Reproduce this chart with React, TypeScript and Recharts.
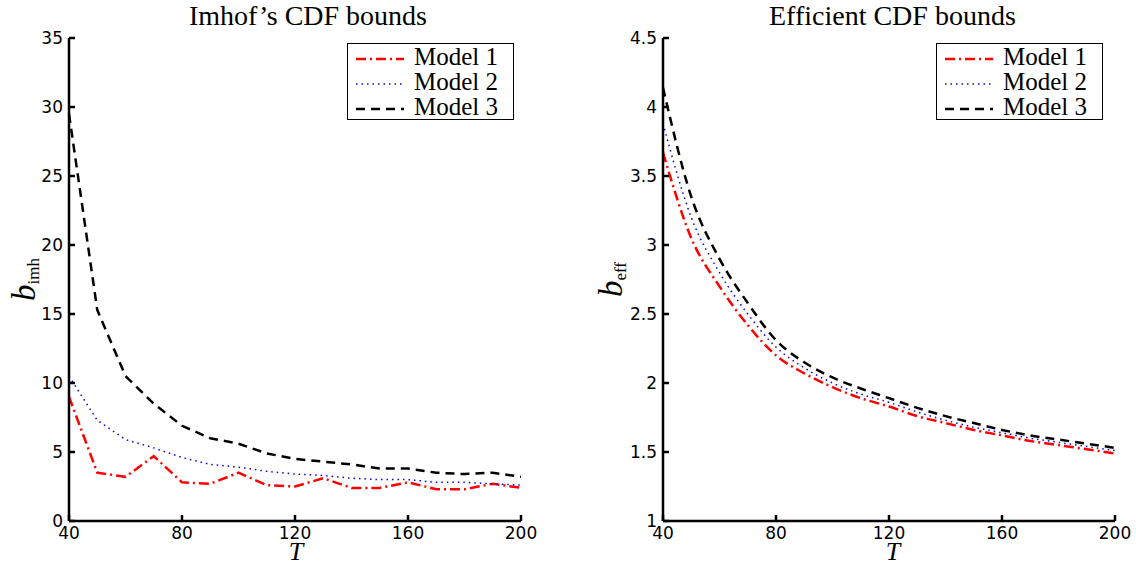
import { LineChart, Line, XAxis, YAxis, Legend } from 'recharts';

// sample sizes T
const tValues = [40, 50, 60, 70, 80, 90, 100, 110, 120, 130, 140, 150, 160, 170, 180, 190, 200];

// Imhof's CDF bounds
const imhModel1 = [9.0, 3.5, 3.2, 4.7, 2.8, 2.7, 3.5, 2.6, 2.5, 3.1, 2.4, 2.4, 2.8, 2.3, 2.3, 2.7, 2.4];
const imhModel2 = [10.5, 7.3, 5.9, 5.3, 4.6, 4.1, 3.9, 3.6, 3.4, 3.3, 3.1, 3.0, 3.0, 2.8, 2.8, 2.7, 2.6];
const imhModel3 = [29.5, 15.3, 10.5, 8.5, 6.9, 6.0, 5.6, 4.9, 4.5, 4.3, 4.1, 3.8, 3.8, 3.5, 3.4, 3.5, 3.2];

// Efficient CDF bounds
const effModel1 = [3.67, 3.05, 2.7, 2.42, 2.2, 2.07, 1.97, 1.89, 1.83, 1.76, 1.71, 1.66, 1.62, 1.58, 1.55, 1.52, 1.49];
const effModel2 = [3.88, 3.2, 2.8, 2.5, 2.26, 2.11, 2.0, 1.92, 1.86, 1.79, 1.73, 1.68, 1.64, 1.6, 1.57, 1.54, 1.51];
const effModel3 = [4.14, 3.35, 2.9, 2.58, 2.31, 2.15, 2.04, 1.96, 1.89, 1.82, 1.76, 1.71, 1.66, 1.62, 1.59, 1.56, 1.53];

const xTicks = [40, 80, 120, 160, 200];
const imhTicks = [0, 5, 10, 15, 20, 25, 30, 35];
const effTicks = [1, 1.5, 2, 2.5, 3, 3.5, 4, 4.5];

const seriesNames = ['Model 1', 'Model 2', 'Model 3'];

const imhData = tValues.map((T, i) => ({ T, m1: imhModel1[i], m2: imhModel2[i], m3: imhModel3[i] }));
const effData = tValues.map((T, i) => ({ T, m1: effModel1[i], m2: effModel2[i], m3: effModel3[i] }));

const styles = [
  { key: 'm1', color: '#ff0000', dash: '10 4 2 4', width: 2.5 },
  { key: 'm2', color: '#0000ff', dash: '1.5 4', width: 1.5 },
  { key: 'm3', color: '#000000', dash: '9 6', width: 2.5 },
];

const serif = '"Liberation Serif", "Times New Roman", serif';
const sans = '"DejaVu Sans", sans-serif';
const tickFont = { fontFamily: sans, fontSize: 17, fill: '#000' };

function LegendBox() {
  return (
    <div
      style={{
        width: 165,
        height: 75,
        border: '1px solid #000',
        background: '#fff',
        fontFamily: serif,
        fontSize: 25,
        lineHeight: '25px',
        paddingTop: 0,
      }}
    >
      {seriesNames.map((name, i) => (
        <div key={name} style={{ display: 'flex', alignItems: 'center', height: 25 }}>
          <svg width={66} height={20}>
            <line
              x1={8}
              x2={56}
              y1={12}
              y2={12}
              stroke={styles[i].color}
              strokeWidth={styles[i].width}
              strokeDasharray={styles[i].dash}
            />
          </svg>
          <span>{name}</span>
        </div>
      ))}
    </div>
  );
}

function YLabel({ viewBox, x, y, sub }: any) {
  const bx = (viewBox?.x ?? 0) + x;
  return (
    <text
      x={bx}
      y={y}
      transform={`rotate(-90, ${bx}, ${y})`}
      textAnchor="middle"
      fontFamily={serif}
      fill="#000"
    >
      <tspan fontStyle="italic" fontSize={33}>b</tspan>
      <tspan fontSize={17} dy={4}>{sub}</tspan>
    </text>
  );
}

function XLabel({ viewBox, shift }: any) {
  const cx = viewBox.x + viewBox.width / 2 + shift;
  return (
    <text x={cx} y={560} textAnchor="middle" fontFamily={serif} fontStyle="italic" fontSize={26} fill="#000">
      T
    </text>
  );
}

function Panel({ data, domain, ticks, yWidth, right, sub, subX, subY, tShift, smooth, legendLeft }: any) {
  return (
    <LineChart
      width={yWidth + 452 + right}
      height={567}
      data={data}
      margin={{ top: 38, right, bottom: 0, left: 0 }}
    >
      <XAxis
        dataKey="T"
        type="number"
        domain={[40, 200]}
        ticks={xTicks}
        height={46}
        stroke="#000"
        strokeWidth={2.5}
        tickSize={-6}
        tickMargin={12}
        tick={tickFont}
        interval={0}
        label={<XLabel shift={tShift} />}
      />
      <XAxis
        xAxisId="top"
        orientation="top"
        type="number"
        domain={[40, 200]}
        ticks={xTicks}
        allowDataOverflow
        height={0}
        stroke="#000"
        strokeWidth={2.5}
        tickSize={-6}
        tick={false}
      />
      <YAxis
        type="number"
        domain={domain}
        ticks={ticks}
        width={yWidth}
        stroke="#000"
        strokeWidth={2.5}
        tickSize={-6}
        tickMargin={12}
        tick={tickFont}
        interval={0}
        label={<YLabel x={subX} y={subY} sub={sub} />}
      />
      <YAxis
        yAxisId="right"
        orientation="right"
        type="number"
        domain={domain}
        ticks={ticks}
        allowDataOverflow
        width={0}
        stroke="#000"
        strokeWidth={2.5}
        tickSize={-6}
        tick={false}
      />
      {styles.map((s, i) => (
        <Line
          key={s.key}
          dataKey={s.key}
          name={seriesNames[i]}
          type={smooth ? 'monotone' : 'linear'}
          stroke={s.color}
          strokeWidth={s.width}
          strokeDasharray={s.dash}
          dot={false}
          isAnimationActive={false}
        />
      ))}
      <Legend
        layout="vertical"
        align="center"
        verticalAlign="middle"
        content={<LegendBox />}
        wrapperStyle={{ left: legendLeft, top: 43, width: 167, height: 77 }}
      />
    </LineChart>
  );
}

export default function App() {
  return (
    <div style={{ position: 'absolute', left: 0, top: 0, width: 1136, height: 567, background: '#fff' }}>
      <div style={{ position: 'absolute', left: 189, top: 1, fontFamily: serif, fontSize: 28, lineHeight: '30px', whiteSpace: 'nowrap' }}>
        Imhof’s CDF bounds
      </div>
      <div style={{ position: 'absolute', left: 769, top: 1, fontFamily: serif, fontSize: 28, lineHeight: '30px', whiteSpace: 'nowrap' }}>
        Efficient CDF bounds
      </div>
      <div style={{ position: 'absolute', left: 0, top: 0 }}>
        <Panel
          data={imhData}
          domain={[0, 35]}
          ticks={imhTicks}
          yWidth={69}
          right={39}
          sub="imh"
          subX={31}
          subY={268}
          tShift={1}
          smooth={false}
          legendLeft={347}
        />
      </div>
      <div style={{ position: 'absolute', left: 580, top: 0 }}>
        <Panel
          data={effData}
          domain={[1, 4.5]}
          ticks={effTicks}
          yWidth={83}
          right={23}
          sub="eff"
          subX={42}
          subY={270}
          tShift={4}
          smooth={true}
          legendLeft={356}
        />
      </div>
    </div>
  );
}
